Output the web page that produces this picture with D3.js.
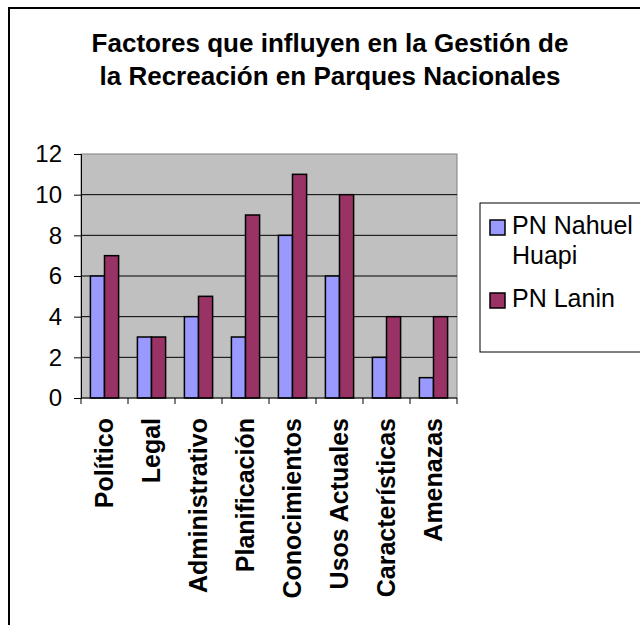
<!DOCTYPE html>
<html lang="es">
<head>
  <meta charset="utf-8">
  <title>Factores de gestión</title>
  <script src="https://cdnjs.cloudflare.com/ajax/libs/d3/7.8.5/d3.min.js"></script>
  <style>
    body { margin: 0; background: #fff; }
    svg { display: block; font-family: "Liberation Sans", Arial, sans-serif; }
  </style>
</head>
<body>
  <div id="container"></div>
  <script>
    var w = 640;
    var h = 625;

    // data
    var categories = ["Político", "Legal", "Administrativo", "Planificación",
      "Conocimientos", "Usos Actuales", "Características", "Amenazas"];
    var nahuel = [6, 3, 4, 3, 8, 6, 2, 1];
    var lanin = [7, 3, 5, 9, 11, 10, 4, 4];
    var seriesNames = ["PN Nahuel Huapi", "PN Lanin"];
    var seriesColors = ["#9999ff", "#993366"];
    var yTicks = [0, 2, 4, 6, 8, 10, 12];
    var titleLines = ["Factores que influyen en la Gestión de",
      "la Recreación en Parques Nacionales"];

    var svg = d3.select("#container").append("svg")
      .attr("width", w)
      .attr("height", h);

    // outer frame (runs off the right and bottom edges)
    svg.append("rect")
      .attr("x", 9).attr("y", 8)
      .attr("width", 800).attr("height", 800)
      .attr("fill", "#fff")
      .attr("stroke", "#000")
      .attr("stroke-width", 2);

    // title
    svg.selectAll("text.title")
      .data(titleLines)
      .enter().append("text")
      .attr("class", "title")
      .attr("x", 330)
      .attr("y", function(d, i) { return 52 + i * 33; })
      .attr("text-anchor", "middle")
      .attr("font-size", 26)
      .attr("font-weight", "bold")
      .text(function(d) { return d; });

    var plotL = 81, plotR = 457, plotT = 154, plotB = 398;

    var x0 = d3.scaleBand()
      .domain(categories)
      .range([plotL, plotR])
      .paddingInner(0.4)
      .paddingOuter(0.2);

    var x1 = d3.scaleBand()
      .domain(d3.range(seriesNames.length))
      .range([0, x0.bandwidth()]);

    var y = d3.scaleLinear()
      .domain([0, 12])
      .range([plotB, plotT]);

    // plot area
    svg.append("rect")
      .attr("x", plotL).attr("y", plotT)
      .attr("width", plotR - plotL).attr("height", plotB - plotT)
      .attr("fill", "#c0c0c0")
      .attr("stroke", "#808080")
      .attr("stroke-width", 1);

    // gridlines
    svg.selectAll("line.grid")
      .data(yTicks.filter(function(d) { return d > 0 && d < 12; }))
      .enter().append("line")
      .attr("class", "grid")
      .attr("x1", plotL).attr("x2", plotR)
      .attr("y1", function(d) { return y(d); })
      .attr("y2", function(d) { return y(d); })
      .attr("stroke", "#000")
      .attr("stroke-width", 1);

    // bars
    var groups = svg.selectAll("g.cat")
      .data(categories)
      .enter().append("g")
      .attr("class", "cat")
      .attr("transform", function(d) { return "translate(" + x0(d) + ",0)"; });

    groups.selectAll("rect")
      .data(function(d, i) { return [nahuel[i], lanin[i]]; })
      .enter().append("rect")
      .attr("x", function(d, j) { return x1(j); })
      .attr("y", function(d) { return y(d); })
      .attr("width", x1.bandwidth())
      .attr("height", function(d) { return y(0) - y(d); })
      .attr("fill", function(d, j) { return seriesColors[j]; })
      .attr("stroke", "#000")
      .attr("stroke-width", 1.5);

    // y axis
    var yAxis = d3.axisLeft(y)
      .tickValues(yTicks)
      .tickSize(7)
      .tickPadding(12);

    var gy = svg.append("g")
      .attr("transform", "translate(" + plotL + ",0)")
      .call(yAxis);
    gy.select(".domain").attr("stroke", "#000");
    gy.selectAll(".tick line").attr("stroke", "#000");
    gy.selectAll(".tick text")
      .attr("font-size", 24)
      .attr("fill", "#000")
      .attr("font-family", "Liberation Sans, Arial, sans-serif");

    // x axis line and boundary ticks
    svg.append("line")
      .attr("x1", plotL).attr("x2", plotR)
      .attr("y1", plotB).attr("y2", plotB)
      .attr("stroke", "#000");

    var half = (x0.step() - x0.bandwidth()) / 2;
    var bounds = categories.map(function(c) { return x0(c) - half; })
      .concat([x0(categories[categories.length - 1]) + x0.bandwidth() + half]);

    svg.selectAll("line.xtick")
      .data(bounds)
      .enter().append("line")
      .attr("class", "xtick")
      .attr("x1", function(d) { return d; })
      .attr("x2", function(d) { return d; })
      .attr("y1", plotB).attr("y2", plotB + 6)
      .attr("stroke", "#000");

    // category labels
    svg.selectAll("text.cat")
      .data(categories)
      .enter().append("text")
      .attr("class", "cat")
      .attr("transform", function(d) {
        return "translate(" + (x0(d) + x0.bandwidth() / 2) + ",418) rotate(-90)";
      })
      .attr("text-anchor", "end")
      .attr("dy", "0.35em")
      .attr("font-size", 25)
      .attr("font-weight", "bold")
      .text(function(d) { return d; });

    // legend
    var lg = svg.append("g");
    lg.append("rect")
      .attr("x", 480).attr("y", 203)
      .attr("width", 300).attr("height", 149)
      .attr("fill", "#fff")
      .attr("stroke", "#000")
      .attr("stroke-width", 1);

    var swatchY = [220, 293];
    lg.selectAll("rect.sw")
      .data(seriesNames)
      .enter().append("rect")
      .attr("class", "sw")
      .attr("x", 490)
      .attr("y", function(d, i) { return swatchY[i]; })
      .attr("width", 15).attr("height", 15)
      .attr("fill", function(d, i) { return seriesColors[i]; })
      .attr("stroke", "#000")
      .attr("stroke-width", 1.5);

    var legendLines = [["PN Nahuel", "Huapi"], ["PN Lanin"]];
    var legendBase = [234, 307];
    legendLines.forEach(function(lines, i) {
      lg.selectAll(null)
        .data(lines)
        .enter().append("text")
        .attr("x", 512)
        .attr("y", function(d, k) { return legendBase[i] + k * 30; })
        .attr("font-size", 25)
        .text(function(d) { return d; });
    });
  </script>
</body>
</html>
